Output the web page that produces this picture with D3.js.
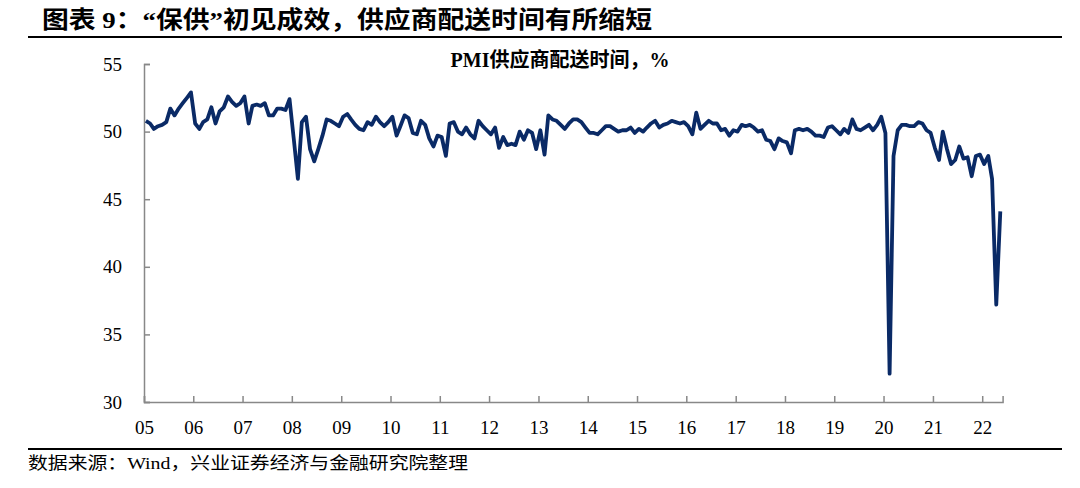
<!DOCTYPE html>
<html><head><meta charset="utf-8">
<script src="https://cdn.jsdelivr.net/npm/d3@7/dist/d3.min.js"></script>
<style>body{margin:0;background:#fff}svg{display:block}</style>
</head><body>
<svg id="chart" width="1080" height="488"></svg>
<script>
const titleText = "图表 9：“保供”初见成效，供应商配送时间有所缩短";
const seriesName = "PMI供应商配送时间，%";
const sourceText = "数据来源：Wind，兴业证券经济与金融研究院整理";
const yearLabels = ["05","06","07","08","09","10","11","12","13","14","15","16","17","18","19","20","21","22"];
const yTicks = [30, 35, 40, 45, 50, 55];
const startYear = 2005;

const v2005 = [50.8, 50.6, 50.2, 50.4, 50.5, 50.7, 51.7, 51.2, 51.7, 52.1, 52.5, 52.9];
const v2006 = [50.6, 50.2, 50.7, 50.9, 51.8, 50.6, 51.5, 51.8, 52.6, 52.2, 51.9, 52.1];
const v2007 = [52.6, 50.6, 51.9, 52.0, 51.9, 52.1, 51.2, 51.2, 51.7, 51.7, 51.6, 52.4];
const v2008 = [49.5, 46.5, 50.7, 51.1, 48.7, 47.8, 48.7, 49.7, 50.9, 50.8, 50.6, 50.4];
const v2009 = [51.1, 51.3, 50.9, 50.5, 50.2, 50.1, 50.7, 50.5, 51.1, 50.7, 50.4, 50.7];
const v2010 = [51.1, 49.7, 50.4, 51.2, 51.0, 49.9, 49.8, 50.8, 50.5, 49.5, 48.9, 49.7];
const v2011 = [49.6, 48.2, 50.6, 50.7, 50.0, 49.8, 50.3, 49.8, 49.5, 50.8, 50.4, 50.1];
const v2012 = [49.8, 50.3, 48.8, 49.6, 49.0, 49.1, 49.0, 50.0, 49.4, 50.1, 49.9, 48.7];
const v2013 = [50.1, 48.3, 51.2, 50.9, 50.8, 50.5, 50.2, 50.6, 50.9, 50.9, 50.7, 50.3];
const v2014 = [49.9, 49.9, 49.8, 50.1, 50.4, 50.4, 50.2, 50.0, 50.1, 50.1, 50.3, 49.9];
const v2015 = [50.2, 50.0, 50.3, 50.6, 50.8, 50.3, 50.5, 50.6, 50.8, 50.7, 50.6, 50.7];
const v2016 = [50.4, 49.8, 51.4, 50.2, 50.5, 50.8, 50.6, 50.6, 50.1, 50.2, 49.7, 50.1];
const v2017 = [50.0, 50.5, 50.4, 50.5, 50.3, 50.0, 50.1, 49.4, 49.3, 48.7, 49.5, 49.3];
const v2018 = [49.2, 48.4, 50.1, 50.2, 50.1, 50.2, 50.0, 49.7, 49.7, 49.6, 50.3, 50.4];
const v2019 = [50.1, 49.8, 50.2, 49.9, 50.9, 50.2, 50.1, 50.3, 50.5, 50.1, 50.5, 51.1];
const v2020 = [49.9, 32.1, 48.2, 50.1, 50.5, 50.5, 50.4, 50.4, 50.7, 50.6, 50.1, 49.9];
const v2021 = [48.8, 47.9, 50.0, 48.7, 47.6, 47.9, 48.9, 48.0, 48.1, 46.7, 48.2, 48.3];
const v2022 = [47.6, 48.2, 46.5, 37.2, 44.1];

const yearly = [v2005,v2006,v2007,v2008,v2009,v2010,v2011,v2012,v2013,v2014,v2015,v2016,v2017,v2018,v2019,v2020,v2021,v2022];
const data = [];
yearly.forEach((arr, yi) => arr.forEach((v, m) => data.push({date: new Date(startYear + yi, m, 1), value: v})));

const svg = d3.select("#chart");
const serif = "'Liberation Serif','Times New Roman','Noto Sans CJK SC',serif";
const cjk = "'Liberation Serif','Noto Sans CJK SC',sans-serif";

// title & rules
svg.append("text").attr("x", 42).attr("y", 28)
  .attr("font-family", cjk).attr("font-weight", "bold").attr("font-size", 24)
  .attr("textLength", 610).attr("lengthAdjust", "spacingAndGlyphs")
  .attr("fill", "#000").text(titleText);
svg.append("line").attr("x1", 28).attr("x2", 1062).attr("y1", 37).attr("y2", 37)
  .attr("stroke", "#000").attr("stroke-width", 1.8);
svg.append("line").attr("x1", 28).attr("x2", 1062).attr("y1", 449).attr("y2", 449)
  .attr("stroke", "#000").attr("stroke-width", 1.8);
svg.append("text").attr("x", 28).attr("y", 469)
  .attr("font-family", cjk).attr("font-size", 17)
  .attr("textLength", 440).attr("lengthAdjust", "spacingAndGlyphs")
  .attr("fill", "#000").text(sourceText);

const last = data[data.length - 1].date;
const x = d3.scaleTime()
  .domain([new Date(startYear, 0, 1), d3.timeMonth.offset(last, 1)])
  .range([144, 1002.6]);
const y = d3.scaleLinear().domain([30, 55]).range([402, 64]);

// y axis
const yAxis = d3.axisLeft(y).tickValues(yTicks).tickSize(-6).tickPadding(22).tickFormat(d3.format("d"));
const gy = svg.append("g").attr("transform", "translate(144,0)").call(yAxis);
gy.select(".domain").attr("stroke", "#888").attr("stroke-width", 1.5);
gy.selectAll(".tick line").attr("stroke", "#888").attr("stroke-width", 1.5);
gy.selectAll(".tick text").attr("font-family", serif).attr("font-size", 19).attr("fill", "#000");

// x axis
const yearTicks = yearLabels.map((_, i) => new Date(startYear + i, 0, 1));
const xAxis = d3.axisBottom(x).tickValues(yearTicks).tickSize(-6).tickPadding(19)
  .tickFormat((d, i) => yearLabels[i]);
const gx = svg.append("g").attr("transform", "translate(0,402)").call(xAxis);
gx.select(".domain").attr("stroke", "#888").attr("stroke-width", 1.5);
gx.selectAll(".tick line").attr("stroke", "#888").attr("stroke-width", 1.5);
gx.selectAll(".tick text").attr("font-family", serif).attr("font-size", 19).attr("fill", "#000");

// series
const mid = d => new Date(d.date.getFullYear(), d.date.getMonth(), 15);
svg.append("path").datum(data)
  .attr("fill", "none").attr("stroke", "#0a2a66").attr("stroke-width", 3.8)
  .attr("stroke-linejoin", "round")
  .attr("d", d3.line().x(d => x(mid(d))).y(d => y(d.value)));

// series label
svg.append("text").attr("x", 560).attr("y", 67).attr("text-anchor", "middle")
  .attr("font-family", cjk).attr("font-weight", "bold").attr("font-size", 20)
  .attr("fill", "#000").text(seriesName);
</script>
</body></html>
